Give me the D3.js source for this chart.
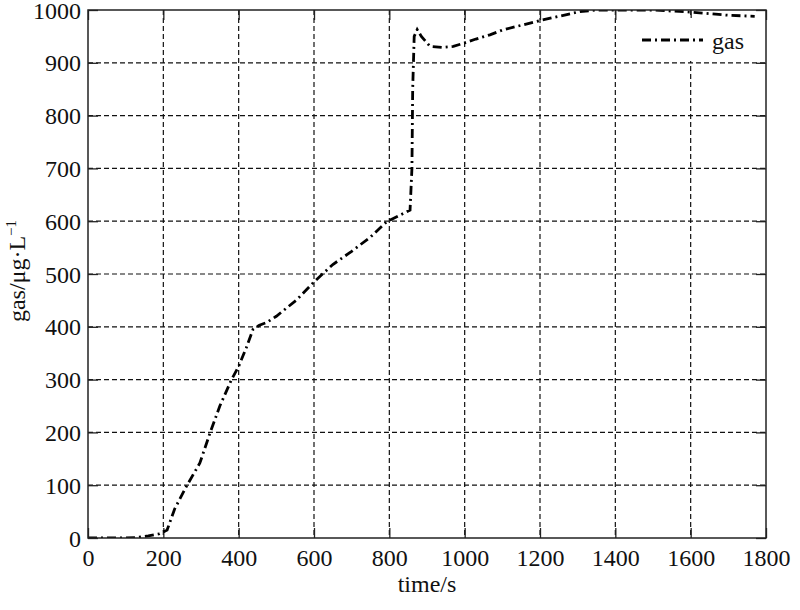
<!DOCTYPE html>
<html>
<head>
<meta charset="utf-8">
<script src="https://cdn.jsdelivr.net/npm/d3@7"></script>
<style>
  body { margin: 0; background: #fff; }
  svg text { font-family: "Liberation Serif", "DejaVu Serif", serif; fill: #111; }
</style>
</head>
<body>
<svg id="chart" width="800" height="610"></svg>
<script>
// ---- data ----
const times  = [0, 50, 100, 130, 160, 190, 210, 230, 263, 297, 324, 350, 381, 400, 420, 438, 455, 474, 500, 554, 600, 650, 700, 750, 793, 830, 855, 860, 862, 866, 874, 885, 908, 940, 970, 997, 1030, 1067, 1100, 1150, 1200, 1250, 1306, 1350, 1400, 1450, 1500, 1550, 1600, 1650, 1700, 1770];
const gasValues = [0, 0, 0, 1, 4, 8, 15, 55, 100, 142, 199, 250, 300, 325, 360, 395, 403, 408, 420, 451, 485, 518, 543, 570, 599, 612, 621, 700, 850, 950, 963, 950, 931, 929, 931, 937, 945, 953, 962, 971, 980, 988, 997, 1000, 1000, 1000, 1000, 998, 996, 993, 990, 988];
const xTicks = [0, 200, 400, 600, 800, 1000, 1200, 1400, 1600, 1800];
const yTicks = [0, 100, 200, 300, 400, 500, 600, 700, 800, 900, 1000];
const seriesName = "gas";
const xLabel = "time/s";
const yLabelMain = "gas/μg·L";
const yLabelSup = "−1";

// ---- layout ----
const L = 88, R = 766, T = 10, B = 538;
const svg = d3.select("#chart");
const x = d3.scaleLinear().domain([0, 1800]).range([L, R]);
const y = d3.scaleLinear().domain([0, 1000]).range([B, T]);
const fmt = d3.format("d");

svg.append("defs").append("clipPath").attr("id", "clip")
  .append("rect").attr("x", L).attr("y", T).attr("width", R - L).attr("height", B - T);

// grid
const grid = svg.append("g");
grid.selectAll("line.vg").data(xTicks.slice(1, -1)).join("line")
  .attr("x1", d => x(d)).attr("x2", d => x(d)).attr("y1", T).attr("y2", B)
  .attr("stroke", "#111").attr("stroke-width", 1.2).attr("stroke-dasharray", "5,3");
grid.selectAll("line.hg").data(yTicks.slice(1, -1)).join("line")
  .attr("x1", L).attr("x2", R).attr("y1", d => y(d)).attr("y2", d => y(d))
  .attr("stroke", "#111").attr("stroke-width", 1.2).attr("stroke-dasharray", "5,3");

// axes with inward ticks
const tl = 10;
const axB = svg.append("g").attr("transform", `translate(0,${B})`)
  .call(d3.axisBottom(x).tickValues(xTicks).tickFormat(fmt).tickSize(-tl).tickPadding(14).tickSizeOuter(0));
const axT = svg.append("g").attr("transform", `translate(0,${T})`)
  .call(d3.axisTop(x).tickValues(xTicks).tickSize(-tl).tickFormat("").tickSizeOuter(0));
const axL = svg.append("g").attr("transform", `translate(${L},0)`)
  .call(d3.axisLeft(y).tickValues(yTicks).tickFormat(fmt).tickSize(-tl).tickPadding(8).tickSizeOuter(0));
const axR = svg.append("g").attr("transform", `translate(${R},0)`)
  .call(d3.axisRight(y).tickValues(yTicks).tickSize(-tl).tickFormat("").tickSizeOuter(0));
[axB, axT, axL, axR].forEach(a => {
  a.attr("font-family", null).attr("font-size", null);
  a.select(".domain").remove();
  a.selectAll(".tick line").attr("stroke", "#222").attr("stroke-width", 1.3);
  a.selectAll("text").style("font-family", '"Liberation Serif", serif').style("font-size", "24px").attr("fill", "#111");
});
axB.selectAll("text").attr("dy", "0.71em").attr("y", 11);
axL.selectAll("text").attr("x", -7).attr("dy", "0.34em");

// line
const line = d3.line().x((d, i) => x(times[i])).y(d => y(d));
svg.append("path").datum(gasValues)
  .attr("clip-path", "url(#clip)")
  .attr("d", line)
  .attr("fill", "none").attr("stroke", "#000").attr("stroke-width", 2.8)
  .attr("stroke-dasharray", "9,4,2,4");

// legend
svg.append("rect").attr("x", 637).attr("y", 18).attr("width", R - 637 - 1).attr("height", 43).attr("fill", "#fff");
svg.append("line").attr("x1", 642).attr("x2", 703).attr("y1", 40).attr("y2", 40)
  .attr("stroke", "#000").attr("stroke-width", 2.8).attr("stroke-dasharray", "9,4,2,4");
svg.append("text").attr("x", 712).attr("y", 49).style("font-size", "24px").text(seriesName);

// frame
svg.append("rect").attr("x", L).attr("y", T).attr("width", R - L).attr("height", B - T)
  .attr("fill", "none").attr("stroke", "#222").attr("stroke-width", 1.5);

// axis labels
svg.append("text").attr("x", (L + R) / 2).attr("y", 592).attr("text-anchor", "middle")
  .style("font-size", "24px").text(xLabel);
const yl = svg.append("text").attr("transform", "translate(25,271) rotate(-90)")
  .attr("text-anchor", "middle").style("font-size", "24px");
yl.append("tspan").text(yLabelMain);
yl.append("tspan").attr("dy", -9).style("font-size", "15px").text(yLabelSup);
</script>
</body>
</html>
